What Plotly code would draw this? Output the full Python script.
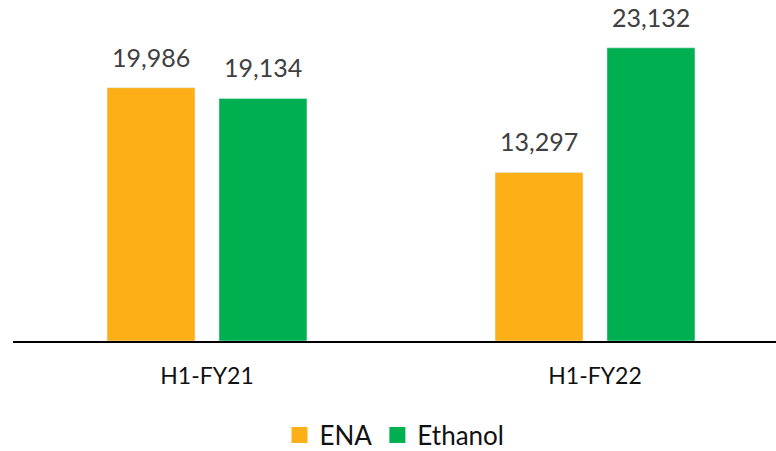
import plotly.graph_objects as go

categories = ["H1-FY21", "H1-FY22"]
ena = [19986, 13297]
ethanol = [19134, 23132]
series_names = ["ENA", "Ethanol"]
colors = ["#FCAF17", "#00B050"]

FONT = "Lato, 'Open Sans', sans-serif"

fig = go.Figure()
for name, vals, col in zip(series_names, [ena, ethanol], colors):
    fig.add_trace(go.Bar(x=categories, y=vals, name=name, marker_color=col,
                         showlegend=False, hoverinfo="skip"))
    fig.add_trace(go.Scatter(x=[None], y=[None], mode="markers", name=name,
                             marker=dict(symbol="square", size=17, color=col)))

shifts = [-56, 56]
for vals, xs in zip([ena, ethanol], shifts):
    for c, v in zip(categories, vals):
        fig.add_annotation(x=c, y=v, text=f"{v:,}", showarrow=False,
                           xshift=xs, yshift=14, yanchor="bottom",
                           font=dict(family=FONT, size=25, color="#404040"))

fig.update_layout(
    width=776, height=451,
    margin=dict(l=13, r=0, t=0, b=110, autoexpand=False),
    plot_bgcolor="white", paper_bgcolor="white",
    barmode="group", bargap=0.423, bargroupgap=0.214,
    font=dict(family=FONT, color="#000000"),
    xaxis=dict(range=[-0.5, 1.4665], showline=True, linecolor="black", linewidth=1.5,
               ticks="", tickfont=dict(size=23, family=FONT, color="#111111"),
               ticklabelstandoff=14, showgrid=False, automargin=False),
    yaxis=dict(range=[0, 26900], visible=False, showgrid=False, automargin=False),
    legend=dict(orientation="h", x=0.5, xanchor="center", y=-0.207, yanchor="top",
                font=dict(size=26, family=FONT, color="#111111"),
                itemsizing="trace"),
)

fig.write_html("out.html", config={"displayModeBar": False},
               post_script="document.body.style.margin='0';")
